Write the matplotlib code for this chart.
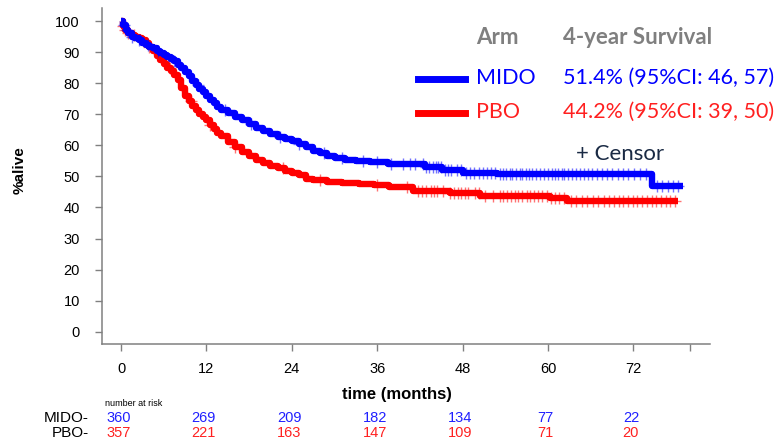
import numpy as np
import matplotlib
matplotlib.use("Agg")
import matplotlib.pyplot as plt

# Kaplan-Meier steps (months, % alive)
mido_t = [0, 0.3, 0.7, 1.0, 1.5, 2.0, 2.5, 3.0, 3.5, 4.0, 4.5, 5.0, 5.5, 6.0, 6.5,
          7.0, 7.5, 8.0, 8.5, 9.0, 9.5, 10.0, 10.5, 11.0, 11.5, 12.0, 12.5, 13.0,
          13.5, 14.0, 15.0, 16.0, 17.0, 18.0, 19.0, 20.0, 21.0, 22.0, 23.0, 24.0,
          25.0, 26.0, 27.0, 28.0, 29.0, 30.0, 31.5, 33.0, 35.0, 37.5, 42.7, 45.1,
          48.0, 52.8, 74.6, 79.0]
mido_s = [100, 98.6, 97.2, 96, 95, 94.4, 93.8, 93, 92.3, 91.8, 91.2, 90.5, 89.7, 89,
          88.3, 87.7, 87, 86, 84.8, 83.5, 82.2, 80.8, 79.5, 78.2, 77, 75.8, 74.6,
          73.5, 72.4, 71.5, 70.3, 69.2, 68, 66.8, 65.5, 64.6, 63.8, 62.8, 62, 61.3,
          60.3, 59.5, 58.3, 57.5, 56.7, 56.0, 55.4, 54.9, 54.6, 54.0, 53.1, 52.1,
          51.2, 50.8, 46.9, 46.9]

pbo_t = [0, 0.3, 0.6, 1.0, 1.5, 2.0, 2.5, 3.0, 3.5, 4.0, 4.5, 5.0, 5.5, 6.0, 6.5,
         7.0, 7.5, 8.0, 8.5, 9.0, 9.5, 10.0, 10.5, 11.0, 11.5, 12.0, 12.5, 13.0,
         13.5, 14.0, 15.0, 16.0, 17.0, 18.0, 19.0, 20.0, 21.0, 22.0, 23.0, 24.0,
         25.0, 26.0, 27.0, 29.0, 31.0, 33.5, 35.5, 37.7, 41.0, 46.2, 50.4, 60.3,
         62.7, 78.3]
pbo_s = [100, 98.5, 97, 96.3, 95.6, 95, 94.5, 93.8, 93, 91.7, 90.2, 88.6, 87.5,
         86.3, 85, 83.8, 82.6, 81.0, 78.5, 76.0, 74.3, 72.8, 71.3, 70, 69, 68,
         66.6, 65.2, 64, 63, 61.2, 59.5, 58, 56.6, 55.2, 54.3, 53.5, 52.8, 51.8,
         51.0, 50.3, 49.3, 48.7, 48.3, 48.0, 47.6, 47.1, 46.5, 45.2, 44.5, 43.7,
         42.9, 42.1, 42.1]

# censoring times
mido_cens = [0.4, 0.9, 1.6, 2.5, 3.8, 5.2, 7.5, 10.8, 14.6, 18.3, 22.3, 25.0, 28.5,
             31.0, 34.0, 36.0, 38.0, 39.6, 40.6, 41.3, 42.4, 42.9, 43.3, 43.8, 44.2,
             44.6, 45.0, 45.5, 45.9, 46.4, 47.2, 47.8, 48.5, 49.1, 49.6, 50.3, 50.9,
             51.4, 52.0, 52.6, 53.2, 53.7, 54.1, 54.6, 55.0, 55.5, 56.0, 56.4, 56.9,
             57.3, 57.8, 58.3, 58.9, 59.4, 60.0, 60.5, 61.0, 61.4, 61.9, 62.3, 62.8,
             63.3, 63.9, 64.5, 65.0, 65.6, 66.2, 66.9, 67.6, 68.3, 69.0, 69.8, 70.5,
             71.3, 72.1, 72.9, 73.7, 75.3, 76.0, 76.8, 77.6, 78.3]
pbo_cens = [0.3, 0.6, 1.0, 1.8, 4.0, 6.9, 9.8, 12.5, 16.0, 22.8, 28.0, 36.0, 40.2,
            41.7, 42.3, 42.9, 43.5, 44.0, 44.4, 45.2, 46.2, 46.8, 47.3, 47.8, 48.3,
            48.7, 49.7, 50.3, 51.2, 52.3, 53.2, 53.7, 54.2, 54.8, 55.3, 55.8, 56.4,
            57.0, 57.5, 58.0, 58.6, 59.2, 59.8, 60.4, 61.0, 61.6, 62.2, 63.2, 64.0,
            64.8, 65.5, 66.3, 67.0, 67.8, 68.6, 69.3, 70.0, 70.6, 71.2, 71.9, 72.5,
            73.2, 73.9, 74.6, 75.2, 75.9, 76.6, 77.2, 77.8]

# number at risk
risk_times = [0, 12, 24, 36, 48, 60, 72]
mido_risk = [360, 269, 209, 182, 134, 77, 22]
pbo_risk = [357, 221, 163, 147, 109, 71, 20]

arms = ["MIDO", "PBO"]
surv4 = ["51.4% (95%CI: 46, 57)", "44.2% (95%CI: 39, 50)"]
blue = "#0000ff"
red = "#ff0000"

W, H = 780, 442
fig = plt.figure(figsize=(W / 100, H / 100), dpi=100)
ax = fig.add_axes([102 / W, 1 - 344 / H, (710 - 102) / W, (344 - 8) / H])

def cens_y(t, s, c):
    idx = np.searchsorted(t, c, side="right") - 1
    return np.asarray(s)[idx]

for t, s, c, col in [(pbo_t, pbo_s, pbo_cens, red), (mido_t, mido_s, mido_cens, blue)]:
    ax.step(t, s, where="post", color=col, lw=4.6, solid_joinstyle="round",
            solid_capstyle="butt")
    ax.plot(c, cens_y(t, s, c), ls="none", marker="+", ms=8.5, mew=1,
            color=col, alpha=0.55)

ax.set_xlim(-2.67, 82.76)
ax.set_ylim(-3.96, 104.2)
ax.set_yticks(range(0, 101, 10))
ax.set_xticks([0, 12, 24, 36, 48, 60, 72, 80])
ax.set_xticklabels(["0", "12", "24", "36", "48", "60", "72", ""])
for sp in ["top", "right"]:
    ax.spines[sp].set_visible(False)
for sp in ["left", "bottom"]:
    ax.spines[sp].set_color("#808080")
    ax.spines[sp].set_linewidth(1.1)
ax.tick_params(axis="y", colors="#808080", labelcolor="black", length=5, width=1,
               pad=11, labelsize=10.5)
ax.tick_params(axis="x", colors="#808080", labelcolor="black", length=5, width=1,
               pad=8, labelsize=10.5)
for lab in ax.get_xticklabels() + ax.get_yticklabels():
    lab.set_family("Liberation Sans")

def ft(x, y, s, **kw):
    fig.text(x / W, 1 - y / H, s, **kw)

ft(20, 170, "%alive", rotation=90, ha="center", va="center", fontsize=11,
   fontweight="bold", family="Liberation Sans")
ft(397, 395, "time (months)", ha="center", va="center", fontsize=12,
   fontweight="bold", family="Liberation Sans")

# legend block
grey = "#7f7f7f"
ft(476, 38, "Arm", ha="left", va="center", fontsize=16, color=grey,
   fontweight="bold", family="Lato")
ft(563, 38, "4-year Survival", ha="left", va="center", fontsize=16, color=grey,
   fontweight="bold", family="Lato")
for i, (arm, txt, col) in enumerate(zip(arms, surv4, [blue, "#ff2020"])):
    y = 79 + 34 * i
    fig.add_artist(plt.Line2D([418 / W, 465 / W], [1 - y / H, 1 - y / H],
                              color=[blue, red][i], lw=5))
    ft(476, y - 1, arm, ha="left", va="center", fontsize=15.5, color=col, family="Lato")
    ft(563, y - 1, txt, ha="left", va="center", fontsize=15.5, color=col, family="Lato")
ft(576, 154, "+ Censor", ha="left", va="center", fontsize=16, color="#1a2a44",
   family="Lato")

# number at risk table
ft(105, 404, "number at risk", ha="left", va="center", fontsize=6.5,
   family="Liberation Sans")
ft(89, 418, "MIDO-", ha="right", va="center", fontsize=11, family="Liberation Sans")
ft(89, 433, "PBO-", ha="right", va="center", fontsize=11, family="Liberation Sans")
for t, m, p in zip(risk_times, mido_risk, pbo_risk):
    xp = ax.transData.transform((t, 0))[0] - 2.5
    ft(xp, 418, str(m), ha="center", va="center", fontsize=10.5, color="#2020ff",
       family="Liberation Sans")
    ft(xp, 433, str(p), ha="center", va="center", fontsize=10.5, color="#ff2020",
       family="Liberation Sans")

fig.savefig("out.png", dpi=100)
